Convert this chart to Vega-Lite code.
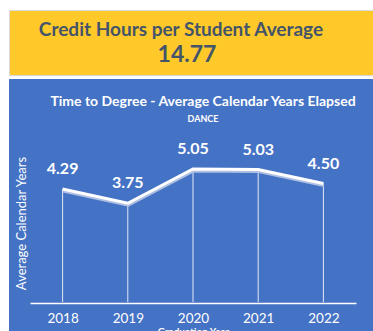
{
  "$schema": "https://vega.github.io/schema/vega-lite/v6.json",
  "background": "white",
  "padding": {"left": 8, "top": 9, "right": 1, "bottom": 0},
  "spacing": 3,
  "config": {"view": {"stroke": null}, "font": "Lato"},
  "vconcat": [
    {
      "width": 364,
      "height": 65,
      "view": {"fill": "#FFC929", "stroke": "#D9D9D9"},
      "data": {"values": [
        {"row": "a", "label": "Credit Hours per Student Average", "kind": "title"},
        {"row": "b", "label": "14.77", "kind": "value"}
      ]},
      "layer": [
        {
          "transform": [{"filter": "datum.kind === 'title'"}],
          "mark": {"type": "text", "font": "Lato", "fontWeight": "bold", "fontSize": 19, "color": "#44546A", "dx": -10, "baseline": "middle"},
          "encoding": {
            "y": {"field": "row", "type": "nominal", "scale": {"type": "point", "padding": 0.8, "domain": ["a", "b"]}, "axis": null},
            "text": {"field": "label"}
          }
        },
        {
          "transform": [{"filter": "datum.kind === 'value'"}],
          "mark": {"type": "text", "font": "Lato", "fontWeight": "bold", "fontSize": 23, "color": "#44546A", "dx": -4, "baseline": "middle"},
          "encoding": {
            "y": {"field": "row", "type": "nominal", "scale": {"type": "point", "padding": 0.8, "domain": ["a", "b"]}, "axis": null},
            "text": {"field": "label"}
          }
        }
      ]
    },
    {
      "width": 364,
      "height": 254,
      "view": {"fill": "#4472C4", "stroke": null},
      "title": {
        "text": "Time to Degree - Average Calendar Years Elapsed",
        "subtitle": "DANCE",
        "offset": -45,
        "dx": 12,
        "anchor": "middle",
        "font": "Lato",
        "fontSize": 14,
        "fontWeight": "bold",
        "color": "white",
        "subtitleFont": "Lato",
        "subtitleFontSize": 9,
        "subtitleFontWeight": "bold",
        "subtitleColor": "white",
        "subtitlePadding": 6
      },
      "data": {"values": [
        {"year": "2018", "years": 4.29},
        {"year": "2019", "years": 3.75},
        {"year": "2020", "years": 5.05},
        {"year": "2021", "years": 5.03},
        {"year": "2022", "years": 4.50}
      ]},
      "encoding": {
        "x": {
          "field": "year", "type": "ordinal",
          "scale": {"type": "point", "padding": 0.5, "range": [21, 347]},
          "axis": {
            "title": "Graduation Year",
            "titleColor": "white", "titleFont": "Lato", "titleFontSize": 10, "titleFontWeight": "bold",
            "titlePadding": 2,
            "labelColor": "white", "labelFont": "Lato", "labelFontSize": 13.5, "labelPadding": 8,
            "labelAngle": 0,
            "domainColor": "white", "domainWidth": 1.5,
            "ticks": false, "grid": false,
            "offset": -30
          }
        },
        "y": {
          "field": "years", "type": "quantitative",
          "scale": {"domain": [0, 6], "range": [223, 65], "nice": false},
          "axis": {
            "title": "Average Calendar Years",
            "titleColor": "white", "titleFont": "Lato", "titleFontSize": 13, "titleFontWeight": "normal",
            "labels": false, "ticks": false, "domain": false, "grid": false,
            "offset": -19, "titlePadding": 0
          }
        }
      },
      "layer": [
        {
          "mark": {"type": "rule", "color": "white", "strokeWidth": 1, "opacity": 0.85},
          "encoding": {"y2": {"datum": 0}}
        },
        {
          "mark": {"type": "line", "color": "#AFC0E2", "strokeWidth": 3, "yOffset": 2, "xOffset": 0.5}
        },
        {
          "mark": {"type": "line", "color": "white", "strokeWidth": 3}
        },
        {
          "mark": {"type": "text", "color": "white", "font": "Lato", "fontWeight": "bold", "fontSize": 16, "baseline": "middle", "dy": -20},
          "encoding": {"text": {"field": "years", "type": "quantitative", "format": ".2f"}}
        }
      ]
    }
  ]
}
